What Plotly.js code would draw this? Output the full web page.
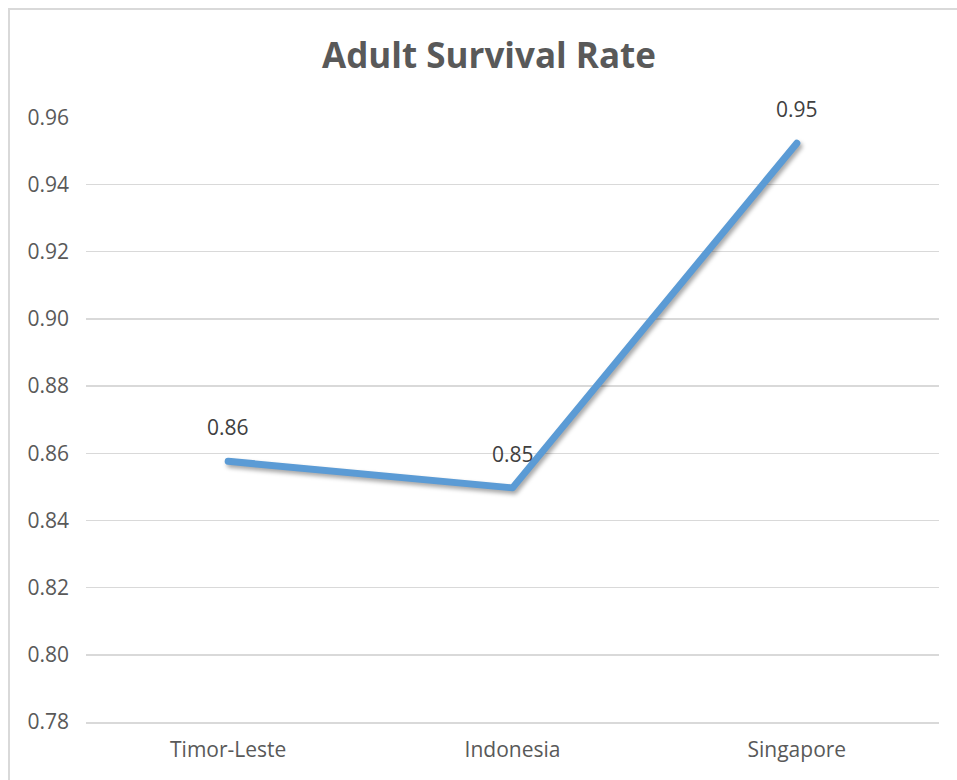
<!DOCTYPE html>
<html>
<head>
<meta charset="utf-8">
<script src="https://cdn.plot.ly/plotly-3.0.1.min.js"></script>
<style>
  html, body { margin: 0; padding: 0; background: #ffffff; }
  #frame {
    position: absolute; left: 8px; top: 8px; width: 1000px; height: 820px;
    border: 2px solid #d9d9d9; box-sizing: border-box;
  }
  #chart { position: absolute; left: 0; top: 0; width: 957px; height: 780px; }
</style>
</head>
<body>
<div id="frame"></div>
<div id="chart"></div>
<script>
// Adult survival rate by country
const countries = ['Timor-Leste', 'Indonesia', 'Singapore'];
const survivalRate = [0.8576, 0.8497, 0.9523];
const yTicks = [0.78, 0.80, 0.82, 0.84, 0.86, 0.88, 0.90, 0.92, 0.94, 0.96];

const font = '"Open Sans", "DejaVu Sans", sans-serif';

const trace = {
  type: 'scatter',
  mode: 'lines',
  x: countries,
  y: survivalRate,
  line: { color: '#5b9bd5', width: 7 },
  hoverinfo: 'skip'
};

// value labels above each point
const labels = countries.map((c, i) => ({
  x: c,
  y: survivalRate[i],
  xref: 'x', yref: 'y',
  text: survivalRate[i].toFixed(2),
  showarrow: false,
  yshift: 34,
  yanchor: 'middle',
  font: { family: font, size: 21, color: '#404040' }
}));

const layout = {
  width: 957, height: 780,
  margin: { l: 86, r: 18, t: 117, b: 58 },
  paper_bgcolor: 'rgba(0,0,0,0)',
  plot_bgcolor: 'rgba(0,0,0,0)',
  showlegend: false,
  title: {
    text: '<b>Adult Survival Rate</b>',
    font: { family: font, size: 35, color: '#595959' },
    x: 489 / 957, xanchor: 'center', xref: 'container',
    y: 1 - 56 / 780, yanchor: 'middle', yref: 'container'
  },
  xaxis: {
    type: 'category',
    range: [-0.5, 2.5],
    showgrid: false,
    zeroline: false,
    showline: true,
    linecolor: '#d9d9d9',
    linewidth: 1.5,
    ticks: '',
    tickfont: { family: font, size: 21, color: '#595959' },
    ticklabelstandoff: 8
  },
  yaxis: {
    range: [0.78, 0.9601],
    tickvals: yTicks,
    ticktext: yTicks.map(v => v.toFixed(2)),
    showgrid: true,
    gridcolor: '#d9d9d9',
    gridwidth: 1.5,
    zeroline: false,
    showline: false,
    ticks: '',
    ticklabelstandoff: 16,
    tickfont: { family: font, size: 21, color: '#595959' }
  },
  annotations: labels
};

Plotly.newPlot('chart', [trace], layout, { staticPlot: true }).then(() => {
  document.querySelectorAll('#chart .scatterlayer path.js-line').forEach(p => {
    p.style.strokeLinejoin = 'round';
    p.style.strokeLinecap = 'round';
    p.style.filter = 'drop-shadow(2px 3px 2px rgba(0,0,0,0.35))';
  });
});
</script>
</body>
</html>
